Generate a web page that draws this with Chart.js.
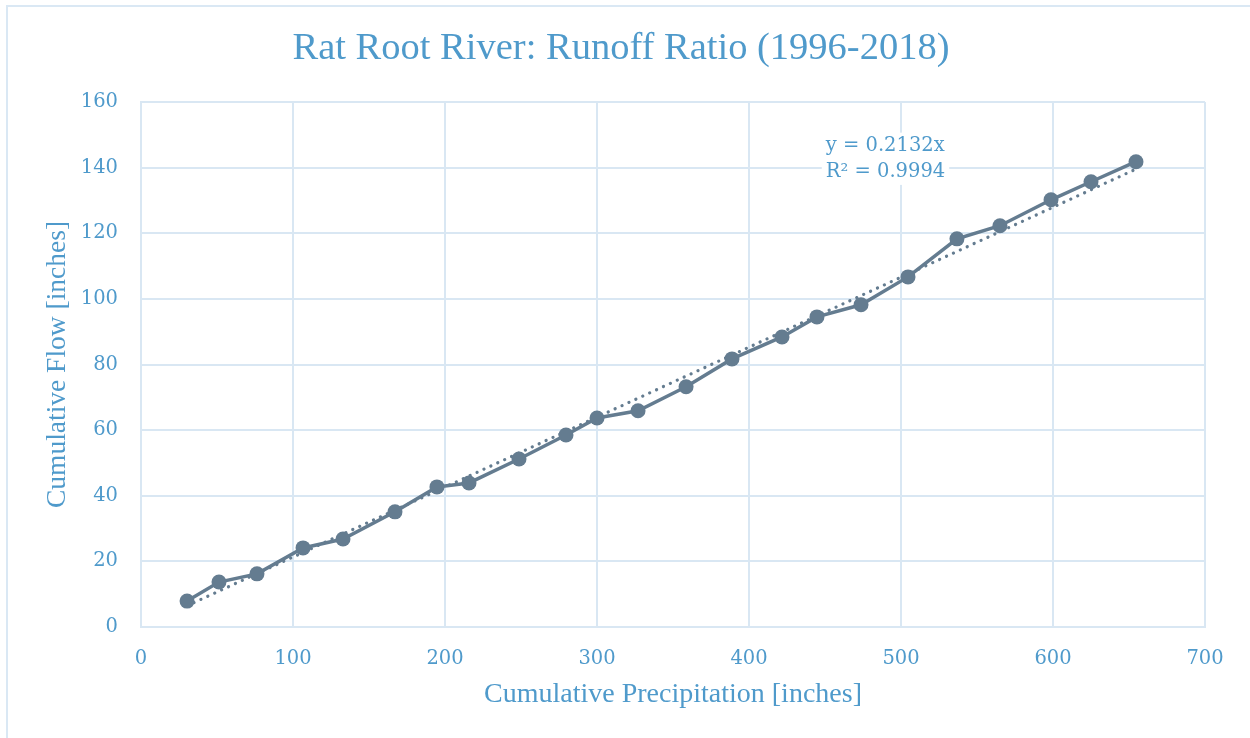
<!DOCTYPE html>
<html>
<head>
<meta charset="utf-8">
<title>Rat Root River: Runoff Ratio</title>
<script src="https://cdn.jsdelivr.net/npm/chart.js@4.4.1/dist/chart.umd.min.js"></script>
<style>
    html, body { margin: 0; padding: 0; background: #fff; overflow: hidden; }
    #frame {
        position: absolute; left: 6px; top: 5px; width: 1400px; height: 900px;
        border-left: 2px solid #dae8f4; border-top: 2px solid #dae8f4;
    }
    #wrap { position: absolute; left: 0; top: 0; width: 1250px; height: 738px; }
</style>
</head>
<body>
<div id="frame"></div>
<div id="wrap"><canvas id="runoff" width="1250" height="738"></canvas></div>
<script>
// cumulative yearly totals, 1996-2018
const years = [1996, 1997, 1998, 1999, 2000, 2001, 2002, 2003, 2004, 2005, 2006, 2007,
               2008, 2009, 2010, 2011, 2012, 2013, 2014, 2015, 2016, 2017, 2018];
const cumPrecip = [30.3, 51.3, 76.3, 106.6, 132.9, 167.1, 194.7, 215.8, 248.7, 279.6, 300.0, 327.0,
                   358.6, 388.8, 421.7, 444.7, 473.7, 504.6, 536.8, 565.1, 598.7, 625.0, 654.6];
const cumFlow = [7.9, 13.7, 16.2, 24.1, 26.8, 35.1, 42.7, 43.9, 51.2, 58.5, 63.7, 65.9,
                 73.2, 81.7, 88.4, 94.5, 98.2, 106.7, 118.3, 122.3, 130.2, 135.7, 141.8];

// linear fit through origin
const slope = 0.2132;
const rSquared = 0.9994;
const fitLabel = ['y = ' + slope + 'x', 'R² = ' + rSquared];

const xTicks = [0, 100, 200, 300, 400, 500, 600, 700];
const yTicks = [0, 20, 40, 60, 80, 100, 120, 140, 160];

const TEXT_BLUE = '#4f9acb';
const LINE = '#647c90';
const GRID = '#d9e7f3';

const points = cumPrecip.map((x, i) => ({ x: x, y: cumFlow[i] }));
const xMin = Math.min(...cumPrecip), xMax = Math.max(...cumPrecip);
const fitPoints = [{ x: xMin, y: slope * xMin }, { x: xMax, y: slope * xMax }];

// equation + R² box, anchored in data units
const fitLabelPlugin = {
    id: 'fitLabel',
    beforeDatasetsDraw(chart) {
        const { ctx, scales } = chart;
        const x = scales.x.getPixelForValue(450.5);
        const y1 = scales.y.getPixelForValue(146.7);
        const y2 = scales.y.getPixelForValue(138.7);
        ctx.save();
        ctx.font = '19.5px "DejaVu Serif"';
        const w = Math.max(...fitLabel.map(t => ctx.measureText(t).width));
        ctx.fillStyle = '#fff';
        ctx.fillRect(x - 4, y1 - 13, w + 8, (y2 - y1) + 26);
        ctx.fillStyle = TEXT_BLUE;
        ctx.textBaseline = 'middle';
        ctx.textAlign = 'left';
        ctx.fillText(fitLabel[0], x, y1);
        ctx.fillText(fitLabel[1], x, y2);
        ctx.restore();
    }
};

const ctx = document.getElementById('runoff').getContext('2d');
new Chart(ctx, {
    type: 'scatter',
    data: {
        datasets: [
            {
                label: 'Cumulative flow',
                data: points,
                showLine: true,
                borderColor: LINE,
                backgroundColor: LINE,
                borderWidth: 3.5,
                pointRadius: 7.5,
                pointHoverRadius: 7.5,
                pointBorderWidth: 0,
                order: 1
            },
            {
                label: 'Linear fit',
                data: fitPoints,
                showLine: true,
                borderColor: LINE,
                borderWidth: 3.2,
                borderDash: [0.1, 7.5],
                borderCapStyle: 'round',
                pointRadius: 0,
                order: 2
            }
        ]
    },
    options: {
        responsive: false,
        animation: false,
        devicePixelRatio: 1,
        layout: { padding: { left: 37, right: 45, top: 0, bottom: 23 } },
        plugins: {
            legend: { display: false },
            tooltip: { enabled: false },
            title: {
                display: true,
                text: 'Rat Root River: Runoff Ratio (1996-2018)',
                color: TEXT_BLUE,
                font: { family: '"Liberation Serif"', size: 38.5, weight: 'normal' },
                padding: { top: 26, bottom: 29.8 }
            }
        },
        scales: {
            x: {
                type: 'linear',
                min: xTicks[0],
                max: xTicks[xTicks.length - 1],
                afterBuildTicks: s => { s.ticks = xTicks.map(v => ({ value: v })); },
                afterFit: s => { s.height = 88; },
                grid: { color: GRID, lineWidth: 2, drawTicks: false },
                border: { color: GRID, width: 2 },
                ticks: {
                    color: TEXT_BLUE,
                    padding: 20,
                    maxRotation: 0,
                    font: { family: '"DejaVu Serif"', size: 19.5 }
                },
                title: {
                    display: true,
                    text: 'Cumulative Precipitation [inches]',
                    color: TEXT_BLUE,
                    font: { family: '"Liberation Serif"', size: 28 },
                    padding: { top: 4, bottom: 4 }
                }
            },
            y: {
                type: 'linear',
                min: yTicks[0],
                max: yTicks[yTicks.length - 1],
                afterBuildTicks: s => { s.ticks = yTicks.map(v => ({ value: v })); },
                afterFit: s => { s.width = 104; },
                grid: { color: GRID, lineWidth: 2, drawTicks: false },
                border: { color: GRID, width: 2 },
                ticks: {
                    color: TEXT_BLUE,
                    padding: 23,
                    font: { family: '"DejaVu Serif"', size: 19.5 }
                },
                title: {
                    display: true,
                    text: 'Cumulative Flow [inches]',
                    color: TEXT_BLUE,
                    font: { family: '"Liberation Serif"', size: 27.5 },
                    padding: { top: 4, bottom: 4 }
                }
            }
        }
    },
    plugins: [fitLabelPlugin]
});
</script>
</body>
</html>
